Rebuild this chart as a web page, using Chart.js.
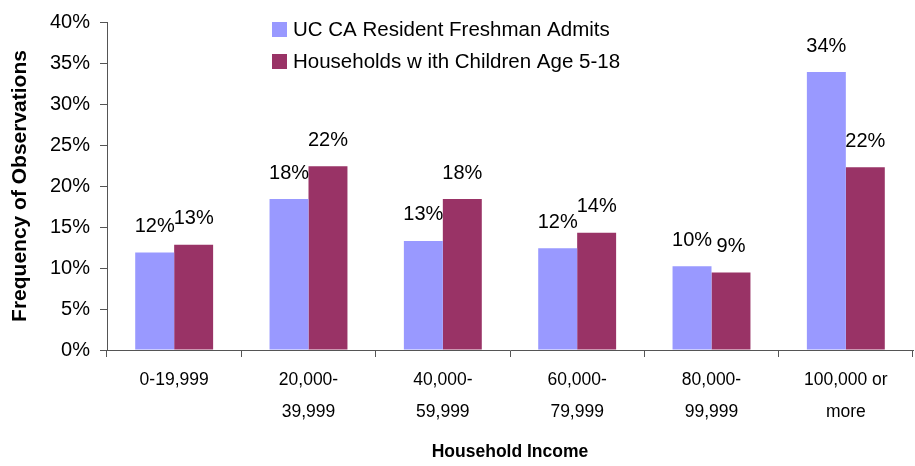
<!DOCTYPE html>
<html>
<head>
<meta charset="utf-8">
<script src="https://cdn.jsdelivr.net/npm/chart.js@4"></script>
<style>
  body { margin: 0; background: #fff; }
</style>
</head>
<body>
<canvas id="myChart" width="915" height="466"></canvas>
<script>
const labels = [
  '0-19,999',
  ['20,000-', '39,999'],
  ['40,000-', '59,999'],
  ['60,000-', '79,999'],
  ['80,000-', '99,999'],
  ['100,000 or', 'more'],
];

const admits = [11.9, 18.4, 13.3, 12.4, 10.2, 33.9];
const households = [12.85, 22.4, 18.4, 14.3, 9.45, 22.3];

const yTicks = [0, 5, 10, 15, 20, 25, 30, 35, 40];

const font = "'Liberation Sans', Arial, sans-serif";

// percent labels above each bar
const barLabels = {
  id: 'barLabels',
  afterDatasetsDraw(chart) {
    const ctx = chart.ctx;
    ctx.save();
    ctx.fillStyle = '#000';
    ctx.font = '20px ' + font;
    ctx.textAlign = 'center';
    ctx.textBaseline = 'bottom';
    chart.data.datasets.forEach((ds, i) => {
      chart.getDatasetMeta(i).data.forEach((bar, j) => {
        ctx.fillText(Math.round(ds.data[j]) + '%', bar.x, bar.y - 16);
      });
    });
    ctx.restore();
  }
};

// legend stacked in the top of the plot
const boxLegend = {
  id: 'boxLegend',
  afterDraw(chart) {
    const ctx = chart.ctx;
    ctx.save();
    ctx.font = '20.5px ' + font;
    ctx.textBaseline = 'middle';
    chart.data.datasets.forEach((ds, i) => {
      const y = 29 + i * 32;
      ctx.fillStyle = ds.backgroundColor;
      ctx.fillRect(272, y - 7, 15, 15);
      ctx.fillStyle = '#000';
      ctx.fillText(ds.label, 293, y + 1);
    });
    ctx.restore();
  }
};

const data = {
  labels: labels,
  datasets: [{
    label: 'UC CA Resident Freshman Admits',
    backgroundColor: '#9999FF',
    data: admits,
  }, {
    label: 'Households w ith Children Age 5-18',
    backgroundColor: '#993366',
    data: households,
  }]
};

const config = {
  type: 'bar',
  data: data,
  options: {
    responsive: false,
    animation: false,
    categoryPercentage: 0.58,
    barPercentage: 1,
    layout: { padding: { top: 20, right: 2, left: 0, bottom: 0 } },
    plugins: {
      legend: { display: false },
      tooltip: { enabled: false },
    },
    scales: {
      x: {
        grid: { drawOnChartArea: false, tickLength: 7, color: '#555', offset: true },
        border: { color: '#555', width: 1 },
        ticks: {
          color: '#000',
          font: { family: font, size: 17.5, lineHeight: 1.83 },
          padding: 7,
          maxRotation: 0,
          autoSkip: false,
        },
        title: {
          display: true,
          text: 'Household Income',
          color: '#000',
          font: { family: font, size: 17.5, weight: 'bold' },
          padding: { top: 0, bottom: 3 },
        },
        afterFit(scale) { scale.height = 116; },
      },
      y: {
        min: 0,
        max: 40,
        afterBuildTicks(scale) { scale.ticks = yTicks.map(v => ({ value: v })); },
        grid: { drawOnChartArea: false, tickLength: 7, color: '#555' },
        border: { color: '#555', width: 1 },
        ticks: {
          color: '#000',
          font: { family: font, size: 20 },
          padding: 10,
          callback: v => v + '%',
        },
        title: {
          display: true,
          text: 'Frequency of Observations',
          color: '#000',
          font: { family: font, size: 21, weight: 'bold' },
          padding: { top: 8, bottom: 0 },
        },
        afterFit(scale) { scale.width = 107; },
      }
    }
  },
  plugins: [barLabels, boxLegend]
};

const myChart = new Chart(document.getElementById('myChart'), config);
</script>
</body>
</html>
